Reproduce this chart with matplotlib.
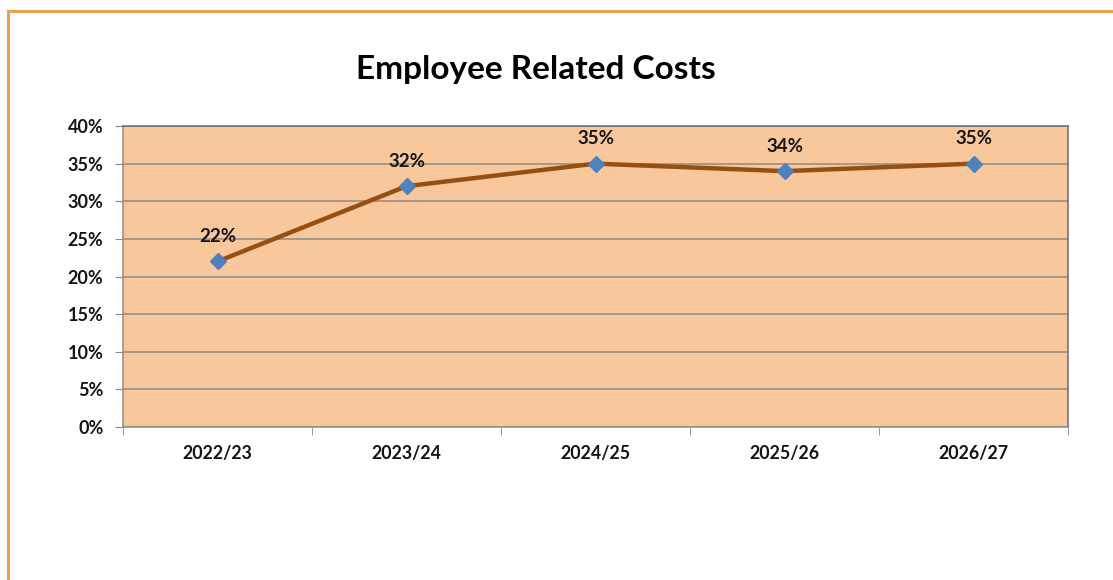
import matplotlib
matplotlib.use("Agg")
import matplotlib.pyplot as plt
from matplotlib.patches import Rectangle
from matplotlib.ticker import MultipleLocator, FixedLocator, PercentFormatter

# Chart data
years = ["2022/23", "2023/24", "2024/25", "2025/26", "2026/27"]
costs = [22, 32, 35, 34, 35]  # percent

plt.rcParams['font.family'] = ['Lato', 'DejaVu Sans']
plt.rcParams['font.weight'] = 'bold'

fig = plt.figure(figsize=(11.13, 5.80), dpi=100)
fig.patch.set_facecolor("white")

# Orange frame around the chart (only top/left visible in the reference)
frame = Rectangle((8 / 1113, -0.05), 1.2, 1 - 11 / 580 + 0.05,
                  transform=fig.transFigure, fill=False,
                  edgecolor="#E9A04F", linewidth=2.2, zorder=0)
fig.patches.append(frame)

ax = fig.add_axes([123 / 1113, 153 / 580, 945 / 1113, 301 / 580])
ax.set_facecolor("#F9C79C")

x = list(range(len(years)))
ax.plot(x, costs, color="#964F12", linewidth=3.2, zorder=3,
        marker="D", markersize=8, markerfacecolor="#4F81BD",
        markeredgecolor="#4F81BD")

for xi, v in zip(x, costs):
    ax.annotate(f"{v}%", (xi, v), xytext=(0, 18), textcoords="offset points",
                ha="center", va="center", fontsize=13.5, fontweight="bold",
                color="#141414")

ax.set_xlim(-0.5, len(years) - 0.5)
ax.set_ylim(0, 40)
ax.yaxis.set_major_locator(MultipleLocator(5))
ax.yaxis.set_major_formatter(PercentFormatter(decimals=0))
ax.grid(axis="y", color="#8F8A84", linewidth=1.1)
ax.set_axisbelow(True)

ax.set_xticks(x)
ax.set_xticklabels(years)
ax.xaxis.set_minor_locator(FixedLocator([i - 0.5 for i in range(len(years) + 1)]))
ax.tick_params(axis="x", which="major", length=0, pad=13, labelsize=12.8)
ax.tick_params(axis="x", which="minor", length=6, color="#8F8A84")
ax.tick_params(axis="y", length=6, color="#8F8A84", labelsize=13, pad=8)
for lab in ax.get_xticklabels() + ax.get_yticklabels():
    lab.set_fontweight("bold")
    lab.set_color("#141414")

ax.spines["left"].set_color("#8F8A84")
ax.spines["bottom"].set_color("#8F8A84")
ax.spines["top"].set_color("#6E6872")
ax.spines["right"].set_color("#6E6872")
for s in ax.spines.values():
    s.set_linewidth(1.1)

fig.text(536 / 1113, 1 - 70 / 580, "Employee Related Costs", ha="center",
         va="center", fontsize=24, fontweight="bold", color="black")

fig.savefig("out.png", dpi=100)
